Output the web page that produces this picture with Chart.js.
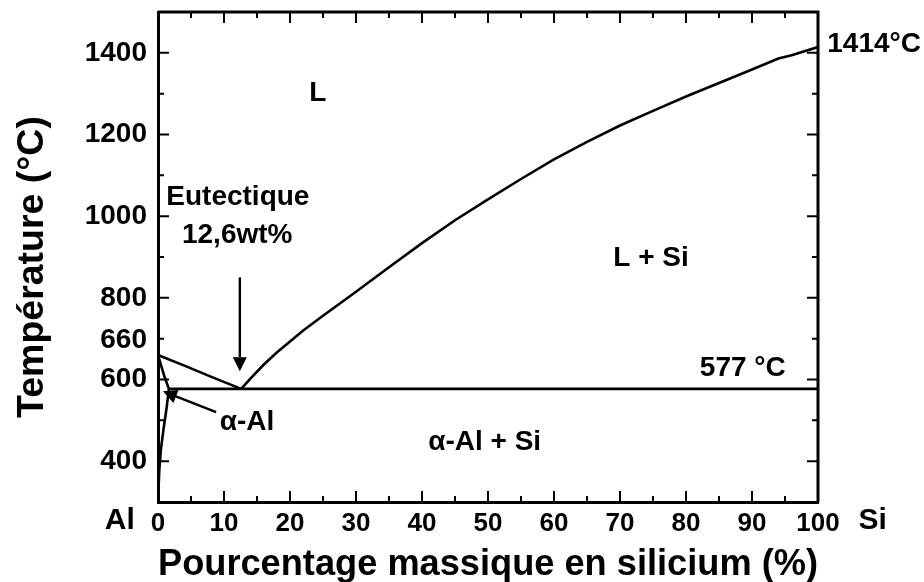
<!DOCTYPE html>
<html>
<head>
<meta charset="utf-8">
<script src="https://cdn.jsdelivr.net/npm/chart.js@4.4.1/dist/chart.umd.min.js"></script>
<style>
  body { margin: 0; background: #fff; }
  #wrap { width: 924px; height: 582px; position: relative; }
</style>
</head>
<body>
<div id="wrap"><canvas id="output"></canvas></div>
<script>
// Al-Si phase diagram
const liquidusAlX = [0, 4, 8, 12.6];
const liquidusAlT = [660, 634, 607, 577];

const liquidusSiX = [12.6, 14, 16, 18, 20, 22, 25, 30, 35, 40, 45, 50, 55, 60, 65, 70, 75, 80, 85, 90, 94, 96, 100];
const liquidusSiT = [577, 602, 636, 666, 693, 720, 756, 815, 875, 934, 990, 1041, 1091, 1139, 1182, 1222, 1258, 1293, 1326, 1359, 1386, 1394, 1414];

const solidusX = [0, 0.5, 1.0, 1.65];
const solidusT = [660, 633, 606, 577];

const solvusX = [1.65, 1.3, 0.85, 0.45, 0.2, 0.05, 0];
const solvusT = [577, 530, 480, 430, 380, 320, 300];

const eutecticX = [1.65, 100];
const eutecticT = [577, 577];

const yTickLabels = [400, 600, 800, 1000, 1200, 1400];

const FONT = '"Liberation Sans", Arial, sans-serif';

function toPoints(xs, ys) {
    return xs.map((x, i) => ({ x: x, y: ys[i] }));
}

function line(xs, ys) {
    return {
        data: toPoints(xs, ys),
        showLine: true,
        borderColor: '#000',
        borderWidth: 2.6,
        pointRadius: 0,
        tension: 0
    };
}

// labels and arrows drawn on top, in data coordinates
const notes = [
    { text: 'L', x: 24.2, y: 1302 },
    { text: 'Eutectique', x: 12.1, y: 1046 },
    { text: '12,6wt%', x: 12.0, y: 954 },
    { text: 'L + Si', x: 74.7, y: 898 },
    { text: '577 °C', x: 88.6, y: 627 },
    { text: '1414°C', x: 101.4, y: 1420, align: 'left' },
    { text: 'α-Al', x: 13.5, y: 495 },
    { text: 'α-Al + Si', x: 49.5, y: 446 },
    { text: 'Al', x: -5.8, y: 254, size: 30 },
    { text: 'Si', x: 108.3, y: 254, size: 30 }
];

const arrows = [
    { from: [12.4, 850], to: [12.4, 620] },
    { from: [8.8, 520], to: [0.75, 571] }
];

const overlay = {
    id: 'overlay',
    afterDraw(chart) {
        const ctx = chart.ctx;
        const xs = chart.scales.x;
        const ys = chart.scales.y;
        const a = chart.chartArea;
        ctx.save();

        // frame top/right
        ctx.strokeStyle = '#000';
        ctx.lineWidth = 3;
        ctx.beginPath();
        ctx.moveTo(a.left, a.top);
        ctx.lineTo(a.right, a.top);
        ctx.lineTo(a.right, a.bottom);
        ctx.stroke();

        // inward ticks on all four sides
        ctx.lineWidth = 2;
        for (let v = 5; v < 100; v += 5) {
            const px = xs.getPixelForValue(v);
            const len = v % 10 === 0 ? 11 : 6;
            ctx.beginPath();
            ctx.moveTo(px, a.bottom); ctx.lineTo(px, a.bottom - len);
            ctx.moveTo(px, a.top); ctx.lineTo(px, a.top + len);
            ctx.stroke();
        }
        for (let v = 400; v < 1500; v += 100) {
            const py = ys.getPixelForValue(v);
            const len = v % 200 === 0 ? 11 : 6;
            ctx.beginPath();
            ctx.moveTo(a.left, py); ctx.lineTo(a.left + len, py);
            ctx.moveTo(a.right, py); ctx.lineTo(a.right - len, py);
            ctx.stroke();
        }

        ctx.fillStyle = '#000';

        // extra "660" label beside the axis
        ctx.font = 'bold 28px ' + FONT;
        ctx.textAlign = 'right';
        ctx.textBaseline = 'middle';
        ctx.fillText('660', a.left - 11, ys.getPixelForValue(695));

        // y axis title
        ctx.save();
        ctx.translate(43, 267);
        ctx.rotate(-Math.PI / 2);
        ctx.font = 'bold 37.5px ' + FONT;
        ctx.textAlign = 'center';
        ctx.textBaseline = 'alphabetic';
        ctx.fillText('Température (°C)', 0, 0);
        ctx.restore();

        // arrows
        ctx.lineWidth = 2.4;
        arrows.forEach(ar => {
            const x0 = xs.getPixelForValue(ar.from[0]), y0 = ys.getPixelForValue(ar.from[1]);
            const x1 = xs.getPixelForValue(ar.to[0]), y1 = ys.getPixelForValue(ar.to[1]);
            const ang = Math.atan2(y1 - y0, x1 - x0);
            const hl = 14, hw = 7;
            const bx = x1 - hl * Math.cos(ang), by = y1 - hl * Math.sin(ang);
            ctx.beginPath();
            ctx.moveTo(x0, y0); ctx.lineTo(bx, by);
            ctx.stroke();
            ctx.beginPath();
            ctx.moveTo(x1, y1);
            ctx.lineTo(bx + hw * Math.sin(ang), by - hw * Math.cos(ang));
            ctx.lineTo(bx - hw * Math.sin(ang), by + hw * Math.cos(ang));
            ctx.closePath();
            ctx.fill();
        });

        // text notes
        notes.forEach(n => {
            ctx.font = 'bold ' + (n.size || 28) + 'px ' + FONT;
            ctx.textAlign = n.align || 'center';
            ctx.textBaseline = 'middle';
            ctx.fillText(n.text, xs.getPixelForValue(n.x), ys.getPixelForValue(n.y));
        });

        ctx.restore();
    }
};

const ctx = document.getElementById('output').getContext('2d');

const chart = new Chart(ctx, {
    type: 'scatter',
    data: {
        datasets: [
            line(liquidusAlX, liquidusAlT),
            line(liquidusSiX, liquidusSiT),
            line(solidusX, solidusT),
            line(solvusX, solvusT),
            line(eutecticX, eutecticT)
        ]
    },
    options: {
        responsive: true,
        maintainAspectRatio: false,
        animation: false,
        layout: { padding: { top: 12, right: 106, left: 0, bottom: 0 } },
        plugins: {
            legend: { display: false },
            tooltip: { enabled: false }
        },
        scales: {
            x: {
                type: 'linear',
                min: 0,
                max: 100,
                afterFit(scale) {
                    scale.height = 80;
                    scale.paddingLeft = 0;
                    scale.paddingRight = 0;
                },
                grid: { display: false, drawTicks: false },
                border: { display: true, color: '#000', width: 3 },
                ticks: {
                    stepSize: 10,
                    padding: 6,
                    color: '#000',
                    font: { family: FONT, size: 26, weight: 'bold' }
                },
                title: {
                    display: true,
                    text: 'Pourcentage massique en silicium (%)',
                    color: '#000',
                    padding: { top: 0, bottom: -1 },
                    font: { family: FONT, size: 37.5, weight: 'bold', lineHeight: 1 }
                }
            },
            y: {
                type: 'linear',
                min: 300,
                max: 1500,
                afterFit(scale) {
                    scale.width = 158;
                    scale.paddingTop = 0;
                    scale.paddingBottom = 0;
                },
                grid: { display: false, drawTicks: false },
                border: { display: true, color: '#000', width: 3 },
                ticks: {
                    stepSize: 100,
                    padding: 11,
                    color: '#000',
                    font: { family: FONT, size: 28, weight: 'bold' },
                    callback: v => yTickLabels.includes(v) ? v : ''
                }
            }
        }
    },
    plugins: [overlay]
});
</script>
</body>
</html>
